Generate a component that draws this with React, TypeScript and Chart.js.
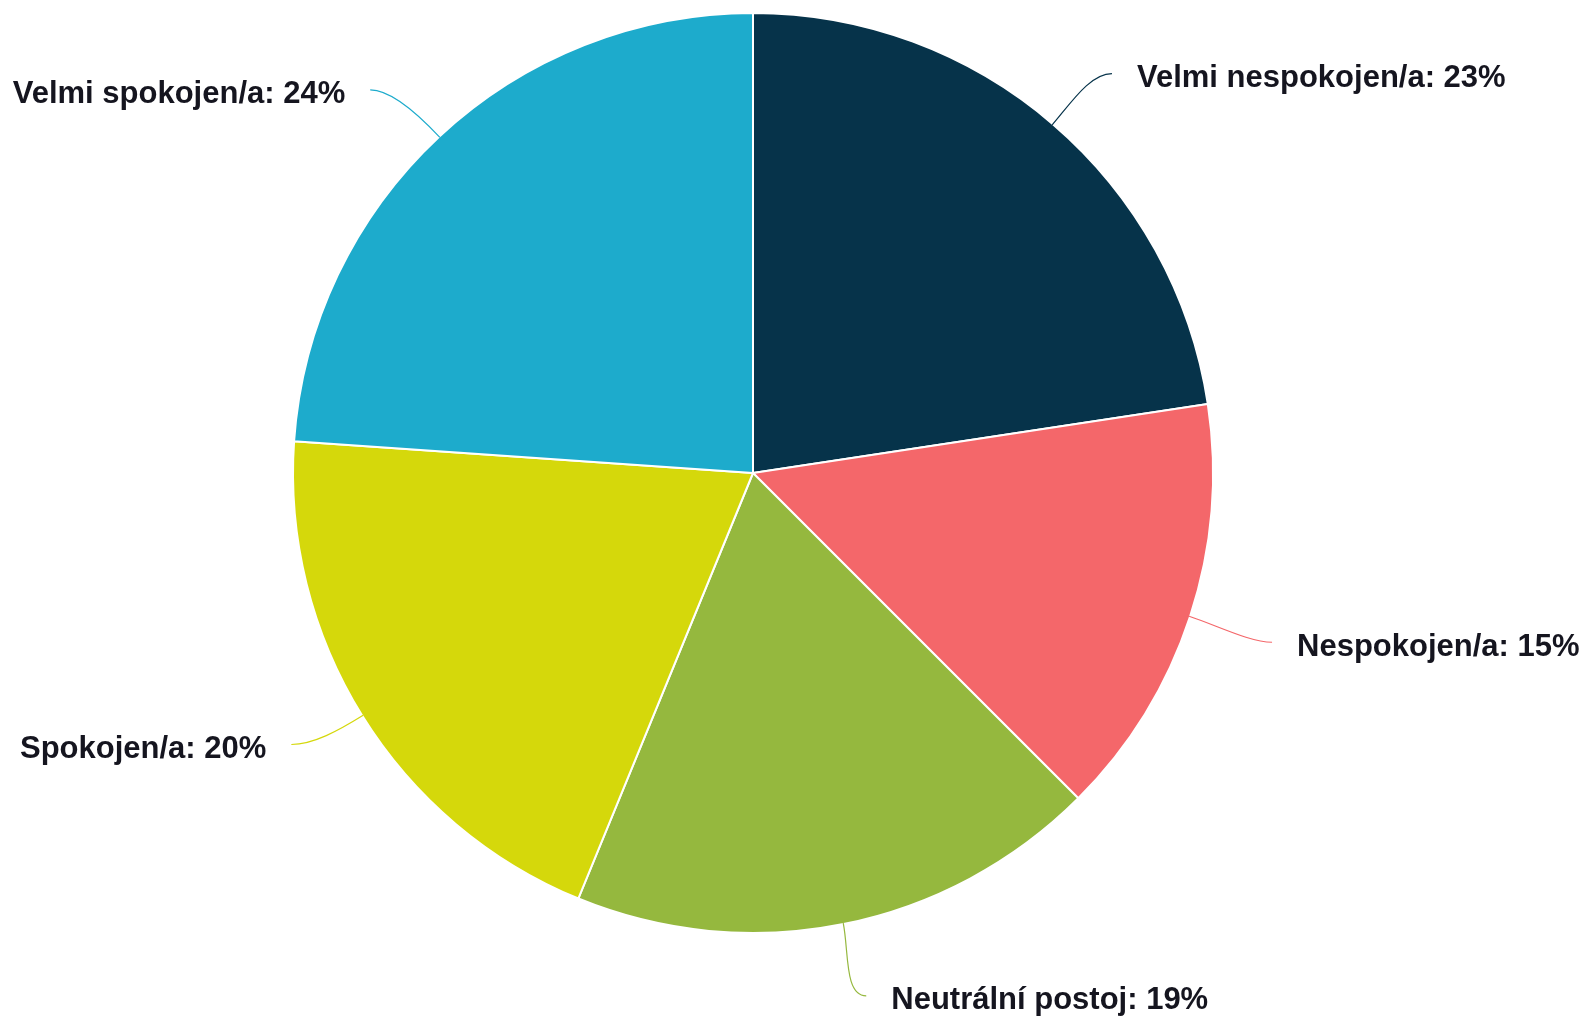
import React, { useEffect, useRef } from "react";
import { Chart, registerables } from "chart.js";

Chart.register(...registerables);

const categories = [
  "Velmi nespokojen/a",
  "Nespokojen/a",
  "Neutrální postoj",
  "Spokojen/a",
  "Velmi spokojen/a",
];
const shares = [22.6, 14.9, 18.7, 19.9, 23.9];
const sliceColors = ["#06334a", "#f4676a", "#95b83e", "#d5d80b", "#1dabcc"];

// small layout tweaks for label placement (pixels), not data
const labelNudge = [
  { dx: 0, dy: 0 },
  { dx: 5, dy: 12 },
  { dx: -9, dy: 18 },
  { dx: 0, dy: 2 },
  { dx: -8, dy: 2 },
];

const outsideLabels = {
  id: "outsideLabels",
  afterDatasetsDraw(chart: any) {
    const ctx = chart.ctx;
    const meta = chart.getDatasetMeta(0);
    const data = chart.data.datasets[0].data as number[];
    const colors = chart.data.datasets[0].backgroundColor as string[];
    ctx.save();
    ctx.font = "bold 31px 'Liberation Sans', Arial, sans-serif";
    ctx.textBaseline = "middle";
    meta.data.forEach((arc: any, i: number) => {
      const { x, y, startAngle, endAngle, outerRadius } = arc.getProps(
        ["x", "y", "startAngle", "endAngle", "outerRadius"],
        true
      );
      const mid = (startAngle + endAngle) / 2;
      const cos = Math.cos(mid);
      const sin = Math.sin(mid);
      const right = cos >= 0;
      const dir = right ? 1 : -1;
      const R = outerRadius + 60;
      const nudge = labelNudge[i] || { dx: 0, dy: 0 };
      const tx = x + cos * R + dir * 45 + nudge.dx;
      const ty = y + sin * R + nudge.dy;
      const p0x = x + cos * (outerRadius - 1);
      const p0y = y + sin * (outerRadius - 1);
      const ex = tx - dir * 25;
      const ey = ty - 5;
      const c1x = x + cos * (outerRadius + 28);
      const c1y = y + sin * (outerRadius + 28);
      const c2x = ex - dir * 22;
      const c2y = ey;
      ctx.beginPath();
      ctx.moveTo(p0x, p0y);
      ctx.bezierCurveTo(c1x, c1y, c2x, c2y, ex, ey);
      ctx.strokeStyle = colors[i];
      ctx.lineWidth = 1.2;
      ctx.stroke();
      const text = `${chart.data.labels[i]}: ${Math.round(data[i])}%`;
      ctx.fillStyle = "#15151f";
      ctx.textAlign = right ? "left" : "right";
      ctx.fillText(text, tx, ty);
    });
    ctx.restore();
  },
};

export default function App() {
  const ref = useRef<HTMLCanvasElement | null>(null);
  useEffect(() => {
    if (!ref.current) return;
    const chart = new Chart(ref.current, {
      type: "pie",
      data: {
        labels: categories,
        datasets: [
          {
            data: shares,
            backgroundColor: sliceColors,
            borderColor: "#ffffff",
            borderWidth: 2,
          },
        ],
      },
      options: {
        animation: false,
        responsive: true,
        maintainAspectRatio: false,
        layout: { padding: { left: 292, top: 12, right: 373, bottom: 93 } },
        plugins: {
          legend: { display: false },
          tooltip: { enabled: false },
        },
      },
      plugins: [outsideLabels],
    });
    return () => chart.destroy();
  }, []);
  return (
    <div
      style={{
        position: "fixed",
        left: 0,
        top: 0,
        width: 1587,
        height: 1027,
        background: "#ffffff",
      }}
    >
      <canvas ref={ref} />
    </div>
  );
}
